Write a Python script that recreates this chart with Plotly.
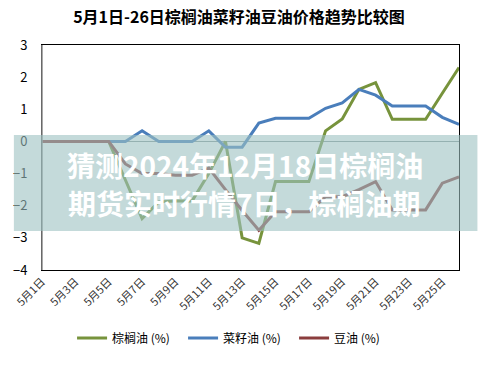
import plotly.graph_objects as go

dates = [f"5月{d}日" for d in range(1, 27)]
palm = [0, 0, 0, 0, 0, -1.2, -2.4, -1.88, -1.85, -1.85, -1.0, 0.0, -3.0, -3.17,
        -1.25, -1.25, -1.25, 0.33, 0.7, 1.62, 1.83, 0.69, 0.69, 0.69, 1.5, 2.3]
rapeseed = [0, 0, 0, 0, 0, 0, 0.33, 0, 0, 0, 0.33, -0.18, -0.18, 0.57, 0.72, 0.72,
            0.72, 1.03, 1.2, 1.62, 1.44, 1.1, 1.1, 1.1, 0.75, 0.53]
soy = [0, 0, 0, 0, 0, -0.7, -1.0, -1.0, -1.05, -1.05, -0.83, -1.5, -2.15, -2.76,
       -2.19, -2.19, -2.19, -1.72, -1.72, -1.5, -1.25, -2.13, -2.13, -2.13, -1.3, -1.1]
tick_labels = dates[::2]
title = "5月1日-26日棕榈油菜籽油豆油价格趋势比较图"
names = ["棕榈油 (%)", "菜籽油 (%)", "豆油 (%)"]
colors = ["#77933C", "#4A7EBB", "#8B3E3E"]
overlay_lines = ["猜测2024年12月18日棕榈油", "期货实时行情7日，棕榈油期"]

FONT = "Noto Sans CJK SC"

fig = go.Figure()
for name, ys, c in zip(names, [palm, rapeseed, soy], colors):
    fig.add_trace(go.Scatter(x=dates, y=ys, mode="lines", name=name,
                             line=dict(color=c, width=3)))

W, H = 478, 367
L, R, T, B = 29, 19, 45, 97
pw, ph = W - L - R, H - T - B

def px_x(x):
    return (x - L) / pw

def px_y(y):
    return (H - B - y) / ph

fig.update_layout(
    width=W, height=H,
    margin=dict(l=L, r=R, t=T, b=B),
    paper_bgcolor="white", plot_bgcolor="white",
    font=dict(family=FONT, color="black", size=12),
    title=dict(text="<b>" + title + "</b>", x=0.5, xanchor="center",
               y=1 - 17 / H, yanchor="middle",
               font=dict(family=FONT, size=16, color="black")),
    showlegend=True,
    legend=dict(orientation="h", x=px_x(60), xanchor="left", y=px_y(338),
                yanchor="middle", font=dict(family=FONT, size=12, color="black"),
                itemwidth=30, entrywidth=66, bgcolor="rgba(0,0,0,0)"),
    xaxis=dict(type="category", range=[0, 25], tickmode="array",
               tickvals=tick_labels, ticktext=tick_labels, tickangle=-45,
               tickfont=dict(family=FONT, size=11, color="#333333"),
               showgrid=False, showline=True, linecolor="black", linewidth=1,
               mirror=True, ticks=""),
    yaxis=dict(range=[-4, 3], dtick=1, showgrid=False, zeroline=True,
               zerolinecolor="#8a9a9a", zerolinewidth=1,
               showline=True, linecolor="black", linewidth=1, mirror=True,
               tickfont=dict(family=FONT, size=13, color="black"),
               ticks="", ticklabelstandoff=11),
)

# gray left axis line
fig.add_shape(type="line", xref="paper", yref="paper", x0=0, x1=0, y0=0, y1=1,
              line=dict(color="#8c8c8c", width=1.5), layer="above")

# translucent banner
fig.add_shape(type="rect", xref="paper", yref="paper",
              x0=px_x(0), x1=px_x(W), y0=px_y(231), y1=px_y(135),
              fillcolor="rgba(157,193,193,0.6)", line=dict(width=0), layer="above")

for txt, yc in zip(overlay_lines, [165, 203]):
    fig.add_annotation(text="<b>" + txt + "</b>", xref="paper", yref="paper",
                       x=px_x(238), y=px_y(yc), xanchor="center", yanchor="middle",
                       showarrow=False,
                       font=dict(family=FONT, size=28, color="white"))

fig.write_html("out.html", config={"displayModeBar": False},
               post_script="document.body.style.margin='0';document.body.style.padding='0';")
